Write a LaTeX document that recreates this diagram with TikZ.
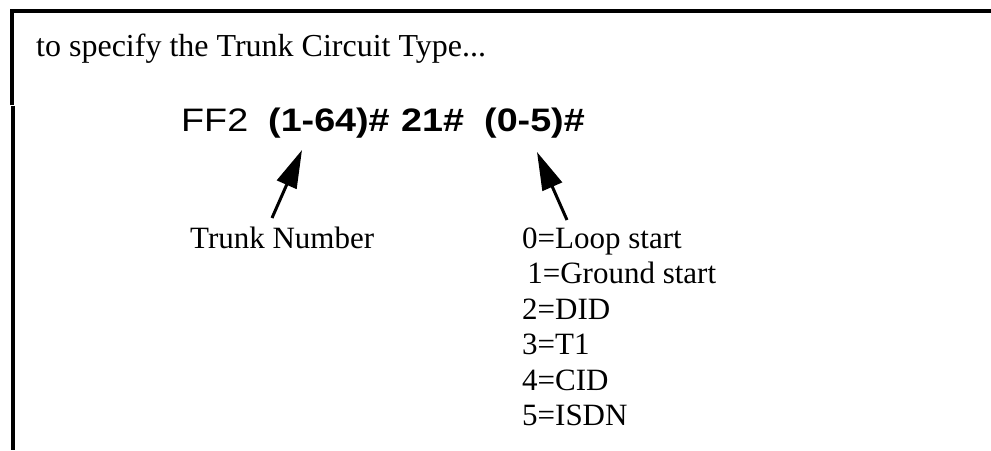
\documentclass[tikz,border=0pt]{standalone}
\usepackage{fontspec}
\usepackage{graphicx}
\setmainfont{Liberation Serif}
\newfontfamily\helv{Liberation Sans}
\usetikzlibrary{arrows.meta}

\tikzset{
  frame/.style={line width=4pt},
  serif/.style={inner sep=0pt, anchor=base west, font=\fontsize{31}{36}\selectfont},
  codeword/.style={inner sep=0pt, anchor=base west, font=\helv\fontsize{32.5}{38}\selectfont},
  pointer/.style={line width=3pt, -{Triangle[length=38pt,width=21pt]}}
}
\newcommand{\wide}[1]{\scalebox{1.16}[1]{#1}}

\begin{document}
\begin{tikzpicture}[x=1pt,y=-1pt]
  \useasboundingbox (0,0) rectangle (991,450);

  % box frame: top rule and the two pieces of the left rule
  \draw[frame] (10,11) -- (991,11);
  \draw[frame] (12,9) -- (12,105);
  \draw[frame] (13,106) -- (13,450);

  % heading
  \node[serif, font=\fontsize{32}{38}\selectfont] (head) at (36,56) {to specify the Trunk Circuit Type...};

  % feature code line
  \node[codeword] (ff) at (181,131) {\wide{FF2}};
  \node[codeword] (trunk) at (268,131) {\wide{\bfseries (1-64)\#}};
  \node[codeword] (code) at (401,131) {\wide{\bfseries 21\#}};
  \node[codeword] (ctype) at (484,131) {\wide{\bfseries (0-5)\#}};

  % explanations
  \node[serif] (tnum) at (190,248) {Trunk Number};
  \node[serif] (t0) at (522,248.0) {0=Loop start};
  \node[serif] (t1) at (522,283.5) {\,1=Ground start};
  \node[serif] (t2) at (522,319.0) {2=DID};
  \node[serif] (t3) at (522,354.5) {3=T1};
  \node[serif] (t4) at (522,390.0) {4=CID};
  \node[serif] (t5) at (522,425.5) {5=ISDN};

  % pointers from explanations up to the fields
  \coordinate (tailA) at (272,218);
  \coordinate (tipA) at (302,150);
  \coordinate (tailB) at (567,220);
  \coordinate (tipB) at (537,152);
  \draw[pointer] (tailA) -- (tipA);
  \draw[pointer] (tailB) -- (tipB);
\end{tikzpicture}
\end{document}
